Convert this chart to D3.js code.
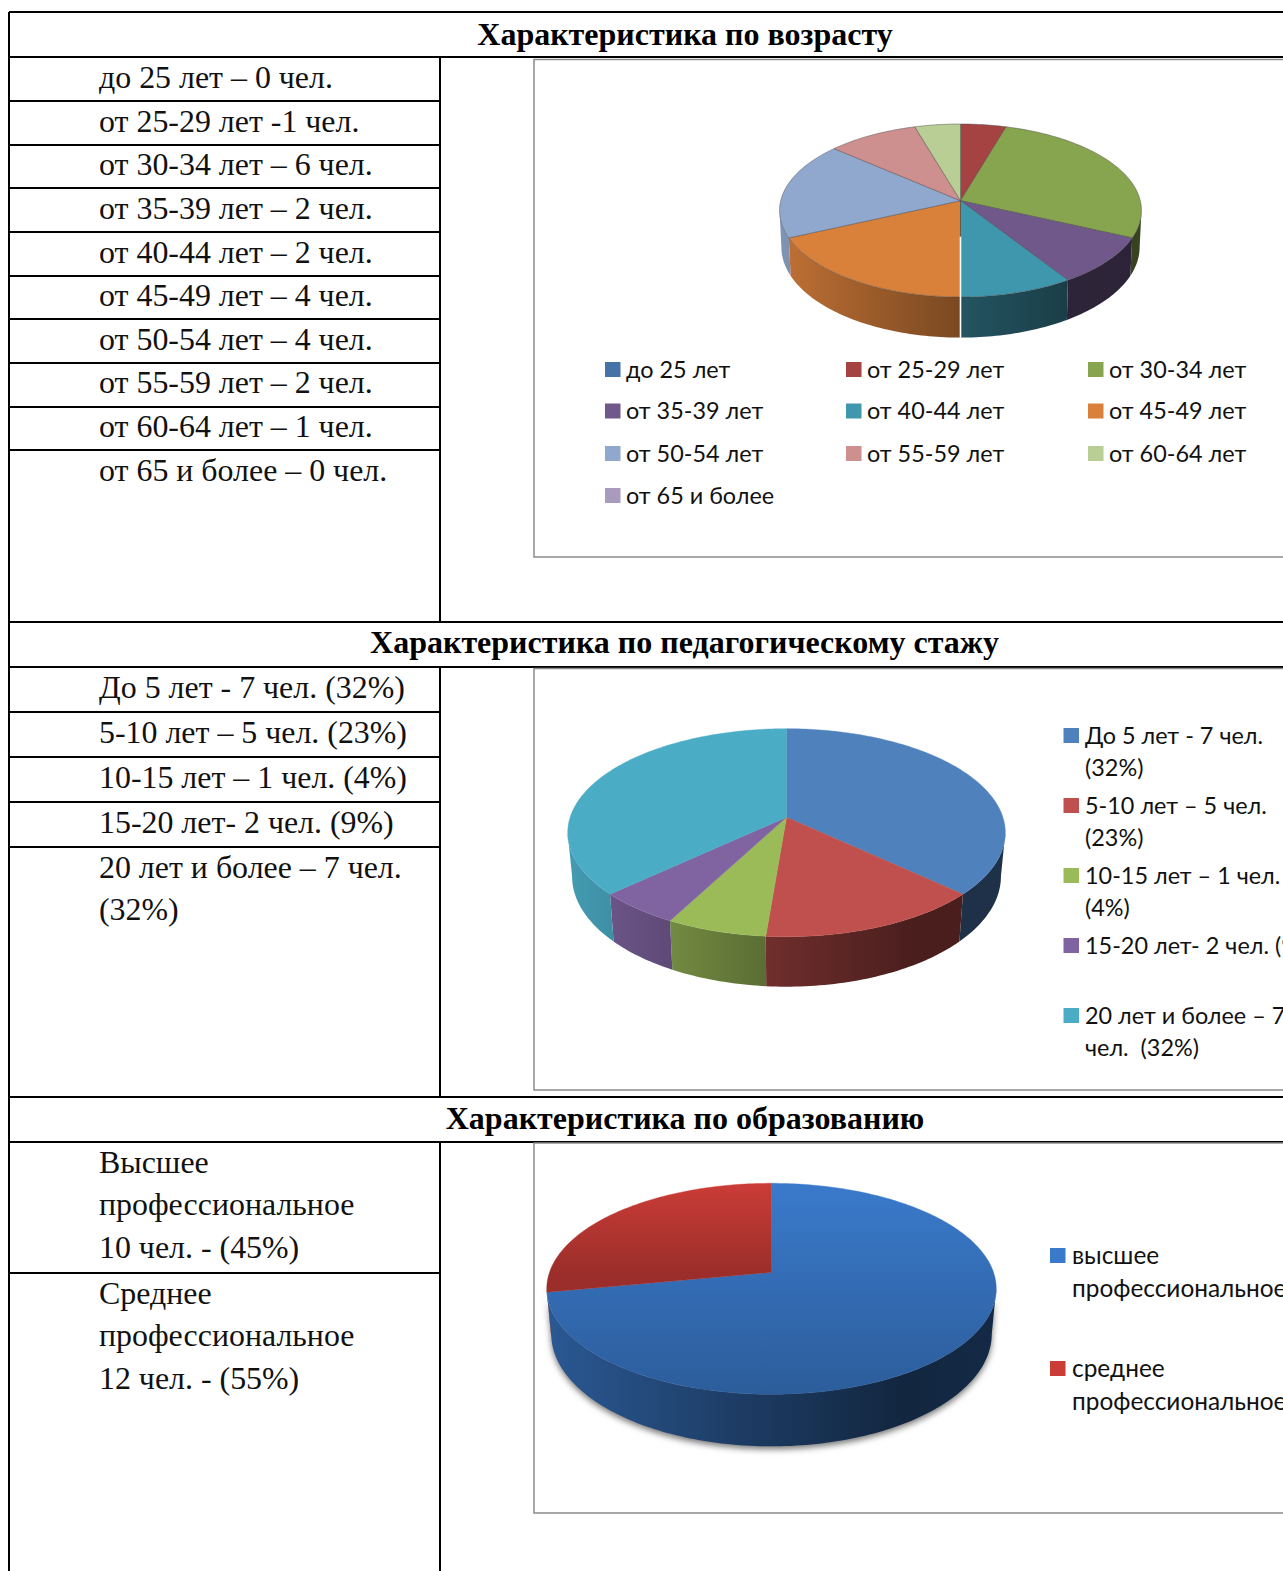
<!DOCTYPE html>
<html>
<head>
<meta charset="utf-8">
<script src="https://cdn.jsdelivr.net/npm/d3@7"></script>
<style>
    html, body { margin: 0; padding: 0; background: #fff; overflow: hidden; }
    svg { display: block; }
    .cell { font-family: "Liberation Serif", serif; font-size: 31.9px; fill: #111; }
    .head { font-family: "Liberation Serif", serif; font-size: 32px; font-weight: bold; fill: #000; text-anchor: middle; }
    .leg { font-family: Lato, "Open Sans", sans-serif; font-size: 23.4px; fill: #111; }
    .leg.big { font-size: 24.4px; }
</style>
</head>
<body>
<div id="chart"></div>
<script>
// table text
const ageHead = "Характеристика по возрасту";
const stageHead = "Характеристика по педагогическому стажу";
const eduHead = "Характеристика по образованию";
const ageRows = ["до 25 лет – 0 чел.", "от 25-29 лет -1 чел.", "от 30-34 лет – 6 чел.", "от 35-39 лет – 2 чел.",
    "от 40-44 лет – 2 чел.", "от 45-49 лет – 4 чел.", "от 50-54 лет – 4 чел.", "от 55-59 лет – 2 чел.",
    "от 60-64 лет – 1 чел.", "от 65 и более – 0 чел."];
const stageRows = ["До 5 лет - 7 чел. (32%)", "5-10 лет – 5 чел. (23%)", "10-15 лет – 1 чел. (4%)",
    "15-20 лет- 2 чел. (9%)", "20 лет и более – 7 чел.", "(32%)"];
const eduRows = ["Высшее", "профессиональное", "10 чел. - (45%)", "Среднее", "профессиональное", "12 чел. - (55%)"];

// pie data
const ageLabels = ["до 25 лет", "от 25-29 лет", "от 30-34 лет", "от 35-39 лет", "от 40-44 лет",
    "от 45-49 лет", "от 50-54 лет", "от 55-59 лет", "от 60-64 лет", "от 65 и более"];
const ageValues = [0, 1, 6, 2, 2, 4, 4, 2, 1, 0];
const ageColors = ["#4572A7", "#A54242", "#87A44F", "#70588B", "#3F97AE", "#D9803B", "#91A8CE", "#CE8F8F", "#B8CE94", "#A99BBD"];

const stageLabels = [["До 5 лет - 7 чел.", "(32%)"], ["5-10 лет – 5 чел.", "(23%)"], ["10-15 лет – 1 чел.", "(4%)"],
    ["15-20 лет- 2 чел. (9%)"], ["20 лет и более – 7", "чел.\u00a0 (32%)"]];
// shares as drawn in the picture, they do not follow the labels
const stageValues = [36.9, 14.4, 6.45, 5.35, 36.9];
const stageColors = ["#4F81BD", "#C0504D", "#9BBB59", "#8064A2", "#4BACC6"];

const eduLabels = [["высшее", "профессиональное"], ["среднее", "профессиональное"]];
const eduValues = [72, 28];
const eduColors = ["#3A7ACB", "#CB3C37"];

const width = 1283, height = 1571;

let svg = d3.select("#chart").append("svg")
    .attr("width", width)
    .attr("height", height);
let defs = svg.append("defs");

// soft shadow of the third pie
let blur = defs.append("filter").attr("id", "pieShadow")
    .attr("x", "-10%").attr("y", "-10%").attr("width", "120%").attr("height", "130%");
blur.append("feGaussianBlur").attr("stdDeviation", 3);

// ---- table ----
const tableLeft = 9, tableTop = 12, splitX = 440;
const ageLines = [57, 101, 145, 188, 232, 276, 319, 363, 407, 450];
const stageLines = [667, 712, 757, 802, 847];
const eduLines = [1142, 1273];
const sectionLines = [622, 1097];

let grid = svg.append("g").attr("stroke", "#000").attr("stroke-width", 2).attr("shape-rendering", "crispEdges");
function hLine(y, x0) {
    grid.append("line").attr("x1", x0).attr("x2", width).attr("y1", y).attr("y2", y);
}
function hCell(y) {
    grid.append("line").attr("x1", tableLeft).attr("x2", splitX).attr("y1", y).attr("y2", y);
}
function vLine(x, y0, y1) {
    grid.append("line").attr("x1", x).attr("x2", x).attr("y1", y0).attr("y2", y1);
}
hLine(tableTop, tableLeft);
hLine(ageLines[0], tableLeft);
hLine(stageLines[0], tableLeft);
hLine(eduLines[0], tableLeft);
sectionLines.forEach(y => hLine(y, tableLeft));
ageLines.slice(1).forEach(hCell);
stageLines.slice(1).forEach(hCell);
eduLines.slice(1).forEach(hCell);
vLine(tableLeft, tableTop, height);
vLine(splitX, ageLines[0], sectionLines[0]);
vLine(splitX, stageLines[0], sectionLines[1]);
vLine(splitX, eduLines[0], height);

function cellText(rows, ys) {
    svg.append("g").selectAll("text").data(rows).join("text")
        .attr("class", "cell")
        .attr("x", 99)
        .attr("y", (d, i) => ys[i])
        .text(d => d);
}
cellText(ageRows, [87.5, 131.5, 175, 218.5, 262.5, 305.5, 349.5, 393, 436.5, 480.5]);
cellText(stageRows, [698, 743, 788, 833, 878, 920]);
cellText(eduRows, [1173, 1215, 1258, 1304, 1346, 1389]);

svg.append("text").attr("class", "head").attr("x", 685).attr("y", 44.5).text(ageHead);
svg.append("text").attr("class", "head").attr("x", 684.5).attr("y", 653).text(stageHead);
svg.append("text").attr("class", "head").attr("x", 685).attr("y", 1129).text(eduHead);

// chart frames
function frame(y0, y1) {
    svg.append("path")
        .attr("d", "M" + width + "," + y0 + "H534V" + y1 + "H" + width)
        .attr("fill", "#fff")
        .attr("stroke", "#8c8c8c")
        .attr("stroke-width", 1.5);
}
frame(59.5, 557);
frame(668.5, 1090);
frame(1143, 1513);

// ---- pies ----
// top of the pie is a circle seen in perspective: t is the perspective strength
function drawPie(values, colors, p) {
    let g = svg.append("g");
    let arcs = d3.pie().sort(null).startAngle(0).endAngle(2 * Math.PI)(values)
        .map((d, i) => ({a0: d.startAngle, a1: d.endAngle, color: colors[i], i: i}))
        .filter(d => d.a1 > d.a0);

    function pt(a, r, low) {
        let u = r * Math.sin(a), v = r * Math.cos(a), den = 1 + v * p.t;
        return [
            p.cx + p.R * u / den * (low ? p.lowScale : 1),
            p.cy - p.k * v / den + (low ? p.depth / den : 0)
        ];
    }
    function samples(a0, a1) {
        let n = Math.max(2, Math.ceil((a1 - a0) / 0.02));
        return d3.range(n + 1).map(j => a0 + (a1 - a0) * j / n);
    }
    let line = d3.line();

    // light falls off from left to right on the side wall
    let shade = d3.scaleLinear()
        .domain([p.cx - p.R, p.cx, p.cx + p.R * 0.6, p.cx + p.R])
        .range(p.shade);

    let visStart = Math.acos(-p.t), visEnd = 2 * Math.PI - visStart;

    if (p.shadow) {
        let rim = samples(visStart, visEnd).map(a => pt(a, 1, true));
        rim = rim.map(q => [q[0], q[1] + 3]);
        let back = samples(visStart, visEnd).reverse().map(a => pt(a, 1, false));
        g.append("path").attr("d", line(rim.concat(back)) + "Z")
            .attr("fill", "#777").attr("filter", "url(#pieShadow)");
    }

    // side wall
    arcs.forEach(d => {
        let s0 = Math.max(d.a0, visStart), s1 = Math.min(d.a1, visEnd);
        if (s1 <= s0) return;
        let id = p.id + "side" + d.i;
        let grad = defs.append("linearGradient").attr("id", id)
            .attr("gradientUnits", "userSpaceOnUse")
            .attr("x1", p.cx - p.R).attr("x2", p.cx + p.R).attr("y1", 0).attr("y2", 0);
        let base = d3.rgb(d.color);
        d3.range(0, 1.01, 0.1).forEach(o => {
            let f = shade(p.cx - p.R + 2 * p.R * o);
            grad.append("stop").attr("offset", o)
                .attr("stop-color", d3.rgb(base.r * f, base.g * f, base.b * f).formatHex());
        });
        let top = samples(s0, s1).map(a => pt(a, 1, false));
        let low = samples(s0, s1).reverse().map(a => pt(a, 1, true));
        g.append("path").attr("d", line(top.concat(low)) + "Z").attr("fill", "url(#" + id + ")");
    });

    // top face
    arcs.forEach(d => {
        let fill = d.color;
        if (p.topGradient) {
            let id = p.id + "top" + d.i;
            let grad = defs.append("linearGradient").attr("id", id)
                .attr("gradientUnits", "userSpaceOnUse")
                .attr("x1", 0).attr("x2", 0)
                .attr("y1", pt(0, 1, false)[1]).attr("y2", pt(d.a1 > Math.PI ? Math.PI : Math.PI / 2, d.a1 > Math.PI && d.i == 0 ? 1 : 0, false)[1]);
            grad.append("stop").attr("offset", 0).attr("stop-color", d.color);
            grad.append("stop").attr("offset", 1).attr("stop-color", d3.rgb(d.color).darker(0.75).formatHex());
            fill = "url(#" + id + ")";
        }
        let pts = [pt(0, 0, false)].concat(samples(d.a0, d.a1).map(a => pt(a, 1, false)));
        g.append("path").attr("d", line(pts) + "Z")
            .attr("fill", fill)
            .attr("stroke", p.edge || fill)
            .attr("stroke-width", p.edge ? 0.8 : 0.4)
            .attr("stroke-linejoin", "round");
    });

    // seam at the front, only the first pie has it
    if (p.seam != null) {
        let a = d3.sum(values.slice(0, p.seam)) / d3.sum(values) * 2 * Math.PI;
        let apex = pt(a, 0, false), apexLow = pt(a, 0, true), rimLow = pt(a, 1, true);
        g.append("line").attr("x1", apex[0]).attr("x2", apexLow[0]).attr("y1", apex[1]).attr("y2", apexLow[1])
            .attr("stroke", "#5c5c50").attr("stroke-width", 1);
        g.append("line").attr("x1", apexLow[0]).attr("x2", rimLow[0]).attr("y1", apexLow[1]).attr("y2", rimLow[1])
            .attr("stroke", "#fff").attr("stroke-width", 1.6);
    }
}

drawPie(ageValues, ageColors, {
    id: "age", cx: 960.5, cy: 200.7, R: 179.8, k: 85.4, t: 0.1133, depth: 36, lowScale: 0.99,
    shade: [0.88, 0.56, 0.41, 0.4], edge: "rgba(70,70,70,0.55)", seam: 5
});
drawPie(stageValues, stageColors, {
    id: "stage", cx: 786.5, cy: 817.3, R: 216.4, k: 101.7, t: 0.148, depth: 42.6, lowScale: 0.98,
    shade: [0.9, 0.55, 0.38, 0.38]
});
drawPie(eduValues, eduColors, {
    id: "edu", cx: 771.5, cy: 1272.3, R: 222, k: 102.9, t: 0.1564, depth: 43.9, lowScale: 0.98,
    shade: [0.72, 0.46, 0.31, 0.34], topGradient: true, shadow: true
});

// ---- legends ----
function swatch(x, y, color) {
    svg.append("rect").attr("x", x).attr("y", y - 7.5).attr("width", 15.5).attr("height", 15).attr("fill", color);
}
function legText(x, y, s, cls) {
    svg.append("text").attr("class", "leg " + (cls || "")).attr("x", x).attr("y", y + 8).text(s);
}

const ageColX = [605, 846, 1088], ageRowY = [369.5, 411, 453.5, 495.5];
ageLabels.forEach((s, i) => {
    let cx = ageColX[i % 3], cy = ageRowY[Math.floor(i / 3)];
    swatch(cx, cy, ageColors[i]);
    legText(cx + 21, cy, s);
});

const stageLegY = [735.5, 805.5, 875.5, 945.5, 1015.5];
stageLabels.forEach((lines, i) => {
    swatch(1063.5, stageLegY[i], stageColors[i]);
    lines.forEach((s, j) => legText(1085, stageLegY[i] + j * 32, s));
});

const eduLegY = [1255.5, 1368.5];
eduLabels.forEach((lines, i) => {
    swatch(1050, eduLegY[i], eduColors[i]);
    lines.forEach((s, j) => legText(1072, eduLegY[i] + j * 33, s, "big"));
});
</script>
</body>
</html>
